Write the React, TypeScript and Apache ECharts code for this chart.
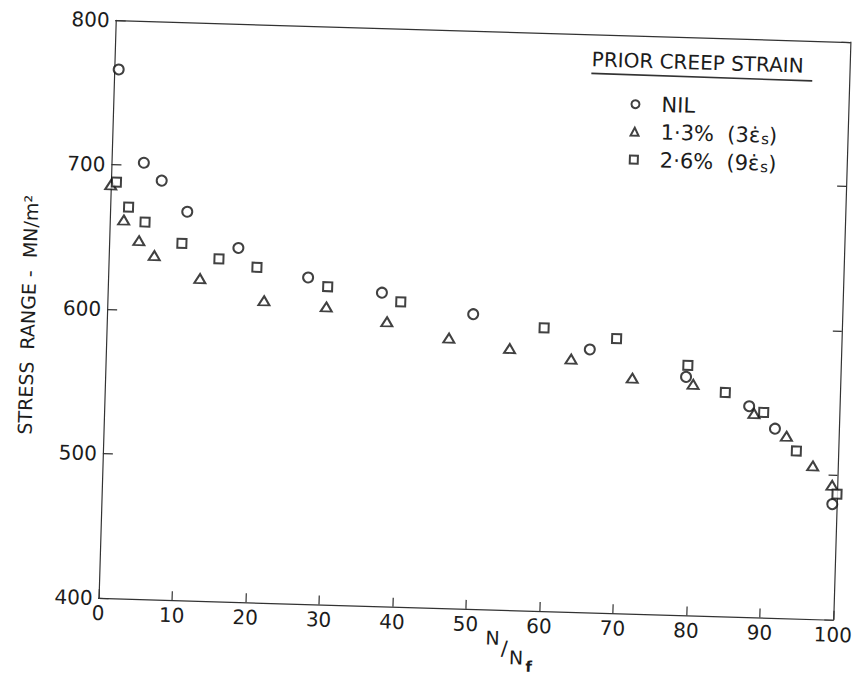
import React, { useEffect, useRef } from "react";
import * as echarts from "echarts";

// N/Nf (%) vs stress range (MN/m²)
const nilData: [number, number][] = [
  [0.6, 766], [4.4, 702], [6.9, 690], [10.5, 669], [17.6, 645], [27.2, 626],
  [37.3, 617], [49.8, 604], [65.8, 582], [79.0, 565], [87.7, 546], [91.3, 531],
  [99.4, 480],
];
const creep13Data: [number, number][] = [
  [0, 686], [1.9, 662], [4.05, 648], [6.2, 638], [12.5, 623], [21.3, 609],
  [29.8, 606], [38.1, 597], [46.6, 587], [54.9, 581], [63.3, 575], [71.7, 563],
  [80.0, 560], [88.4, 541], [92.9, 526], [96.6, 506], [99.3, 493],
];
const creep26Data: [number, number][] = [
  [0.75, 688], [2.5, 671], [4.8, 661], [9.9, 647], [15.0, 637], [20.2, 632],
  [29.9, 620], [39.9, 611], [59.5, 596], [69.4, 590], [79.2, 573], [84.4, 555],
  [89.7, 542], [94.3, 516], [100, 487],
];

const seriesNames = ["NIL", "1·3%  (3ε̇s)", "2·6%  (9ε̇s)"];
const legendRich: Record<string, string> = {
  "NIL": "{t|NIL}",
  "1·3%  (3ε̇s)": "{t|1·3%  (3ε\u0307}{s|s}{t|)}",
  "2·6%  (9ε̇s)": "{t|2·6%  (9ε\u0307}{s|s}{t|)}",
};
const legendTitle = "PRIOR CREEP STRAIN";
const yAxisTitle = "STRESS  RANGE -  MN/m²";
const xMin = 0, xMax = 100, xStep = 10;
const yMin = 400, yMax = 800, yStep = 100;

const FONT = "DejaVu Sans";
const INK = "#1c1c1c";

export default function App() {
  const ref = useRef<HTMLDivElement>(null);
  useEffect(() => {
    if (!ref.current) return;
    const chart = echarts.init(ref.current, undefined, { renderer: "svg" });
    const markerStyle = { color: "#fff", borderColor: "#111", borderWidth: 2 };
    const labelStyle = { fontFamily: FONT, fontSize: 20, color: INK };
    const axisLine = { show: true, onZero: false, lineStyle: { color: "#333", width: 1.2 } };
    chart.setOption({
      animation: false,
      backgroundColor: "transparent",
      grid: { left: 107, top: 31, width: 735, height: 578 },
      xAxis: [
        {
          type: "value", min: xMin, max: xMax, interval: xStep, position: "bottom",
          axisLine,
          axisTick: { show: true, inside: true, length: 9, lineStyle: { color: "#333", width: 1.2 } },
          axisLabel: { ...labelStyle, margin: 5 },
          splitLine: { show: false },
        },
        {
          type: "value", min: xMin, max: xMax, interval: xStep, position: "top",
          axisLine,
          axisTick: { show: false }, axisLabel: { show: false }, splitLine: { show: false },
        },
      ],
      yAxis: [
        {
          type: "value", min: yMin, max: yMax, interval: yStep, position: "left",
          axisLine,
          axisTick: { show: true, inside: true, length: 10, lineStyle: { color: "#333", width: 1.2 } },
          axisLabel: { ...labelStyle, margin: 6 },
          splitLine: { show: false },
        },
        {
          type: "value", min: yMin, max: yMax, interval: yStep, position: "right",
          axisLine,
          axisTick: { show: true, inside: true, length: 9, lineStyle: { color: "#333", width: 1.2 } },
          axisLabel: { show: false }, splitLine: { show: false },
        },
      ],
      legend: {
        orient: "vertical", left: 619, top: 84,
        itemWidth: 8, itemHeight: 8, itemGap: 6,
        data: seriesNames,
        formatter: (name: string) => legendRich[name] || name,
        textStyle: {
          fontFamily: FONT, fontSize: 21, color: INK, padding: [0, 0, 0, 17],
          rich: {
            t: { fontFamily: FONT, fontSize: 21, color: INK, lineHeight: 22 },
            s: { fontFamily: FONT, fontSize: 15, color: INK, lineHeight: 22, verticalAlign: "bottom", padding: [7, 0, 0, 1] },
          },
        },
      },
      graphic: [
        {
          type: "text", left: 584, top: 46,
          style: { text: legendTitle, fontFamily: FONT, fontSize: 20, fill: INK },
        },
        {
          type: "line",
          shape: { x1: 584, y1: 70, x2: 805, y2: 71 },
          style: { stroke: "#333", lineWidth: 1.6 },
        },
        {
          type: "text", x: 28, y: 328, rotation: Math.PI / 2,
          style: {
            text: yAxisTitle, fontFamily: FONT, fontSize: 19, fill: INK,
            align: "center", verticalAlign: "middle",
          },
        },
        { type: "text", x: 502, y: 637, style: { text: "N", fontFamily: FONT, fontSize: 19, fill: INK, align: "center", verticalAlign: "middle" } },
        { type: "text", x: 514, y: 647, style: { text: "/", fontFamily: FONT, fontSize: 20, fill: INK, align: "center", verticalAlign: "middle" } },
        { type: "text", x: 526, y: 656, style: { text: "N", fontFamily: FONT, fontSize: 19, fill: INK, align: "center", verticalAlign: "middle" } },
        { type: "text", x: 539, y: 665, style: { text: "f", fontFamily: FONT, fontSize: 15, fill: INK, align: "center", verticalAlign: "middle", fontWeight: "bold" } },
      ],
      series: [
        { name: seriesNames[0], type: "scatter", symbol: "circle", symbolSize: 10, data: nilData, itemStyle: markerStyle },
        { name: seriesNames[1], type: "scatter", symbol: "triangle", symbolSize: [11, 9], data: creep13Data, itemStyle: markerStyle },
        { name: seriesNames[2], type: "scatter", symbol: "rect", symbolSize: 9, data: creep26Data, itemStyle: markerStyle },
      ],
    });
    return () => chart.dispose();
  }, []);
  return (
    <div
      ref={ref}
      style={{
        position: "absolute", left: 0, top: 0, width: 865, height: 676,
        transform: "rotate(1.7deg)", transformOrigin: "474.5px 320px",
      }}
    />
  );
}
